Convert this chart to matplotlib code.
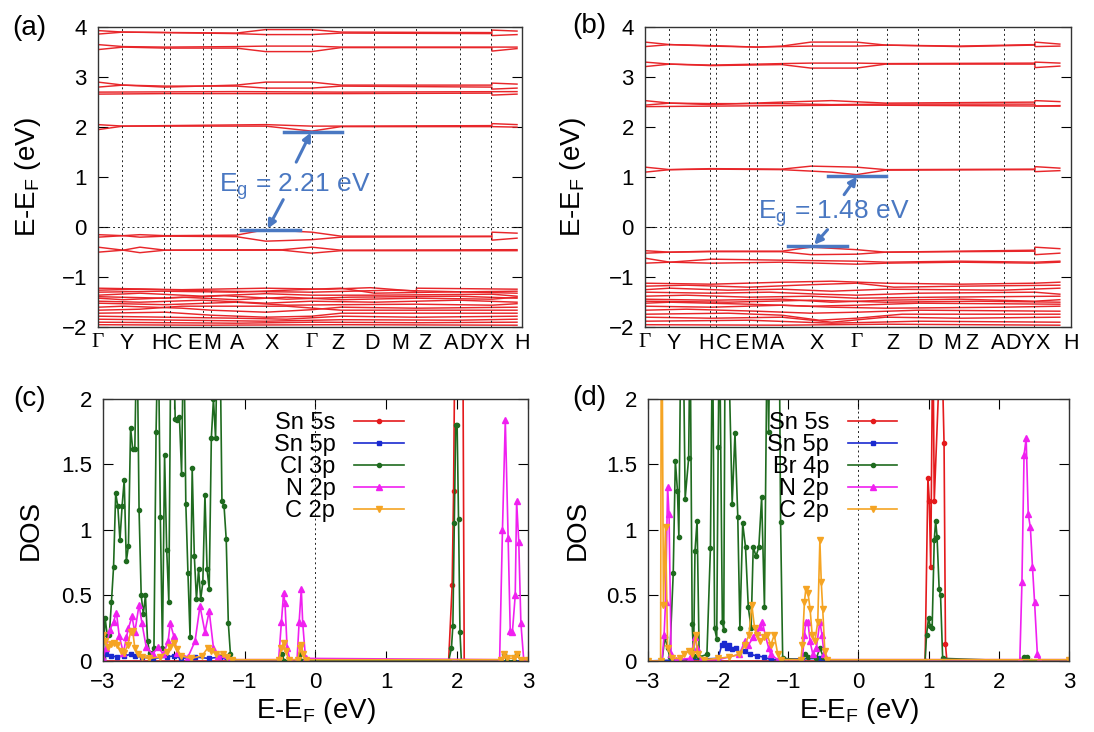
import matplotlib
matplotlib.use("Agg")
import matplotlib.pyplot as plt

plt.rcParams['font.family'] = ['Liberation Sans', 'DejaVu Sans']

# ---------------- band structure data (k along path, E-EF in eV) ----------------
kpath_lines = [0.057, 0.157, 0.171, 0.251, 0.270, 0.331, 0.402, 0.510,
               0.583, 0.659, 0.758, 0.865, 0.938]
klabels = ['Γ', 'Y', 'H', 'C', 'E', 'M', 'A', 'X', 'Γ', 'Z', 'D', 'M', 'Z',
           'A', 'D', 'Y', 'X', 'H']
klabel_pos_a = [0.0, 0.068, 0.146, 0.184, 0.229, 0.272, 0.331, 0.415, 0.510,
                0.572, 0.654, 0.722, 0.781, 0.843, 0.880, 0.914, 0.951, 1.012]
klabel_pos_b = [0.0, 0.070, 0.147, 0.190, 0.232, 0.275, 0.319, 0.414, 0.510,
                0.597, 0.675, 0.740, 0.789, 0.851, 0.888, 0.922, 0.959, 1.027]

bands_a = [
    # conduction bands
    [(0, 3.93), (0.06, 3.90), (0.33, 3.88), (0.40, 3.95), (0.51, 3.95), (0.58, 3.90), (0.94, 3.89), (0.94, 3.94), (1.0, 3.92)],
    [(0, 3.86), (0.06, 3.90), (0.33, 3.87), (0.40, 3.85), (0.51, 3.85), (0.58, 3.88), (0.94, 3.87), (0.94, 3.83), (1.0, 3.85)],
    [(0, 3.65), (0.06, 3.61), (0.16, 3.60), (0.33, 3.61), (0.40, 3.62), (0.51, 3.62), (0.58, 3.60), (0.94, 3.60), (1.0, 3.60)],
    [(0, 3.55), (0.06, 3.60), (0.16, 3.58), (0.33, 3.58), (0.40, 3.51), (0.51, 3.51), (0.58, 3.59), (0.94, 3.59), (0.94, 3.52), (1.0, 3.57)],
    [(0, 2.90), (0.06, 2.84), (0.16, 2.80), (0.33, 2.84), (0.40, 2.90), (0.51, 2.90), (0.58, 2.84), (0.94, 2.84), (0.94, 2.88), (1.0, 2.86)],
    [(0, 2.80), (0.06, 2.84), (0.16, 2.82), (0.33, 2.82), (0.40, 2.78), (0.51, 2.78), (0.58, 2.82), (0.94, 2.80), (0.94, 2.76), (1.0, 2.78)],
    [(0, 2.70), (0.33, 2.71), (0.58, 2.70), (1.0, 2.71)],
    [(0, 2.66), (0.16, 2.67), (0.58, 2.67), (0.94, 2.68), (0.94, 2.64), (1.0, 2.66)],
    [(0, 2.05), (0.06, 2.02), (0.16, 2.03), (0.40, 2.05), (0.51, 2.02), (0.58, 2.02), (0.94, 2.03), (0.94, 2.07), (1.0, 2.05)],
    [(0, 1.95), (0.06, 2.02), (0.16, 2.02), (0.40, 2.02), (0.51, 1.92), (0.58, 2.01), (0.94, 2.01), (1.0, 2.00)],
    # valence bands
    [(0, -0.15), (0.06, -0.17), (0.10, -0.15), (0.16, -0.17), (0.33, -0.16), (0.40, -0.05), (0.51, -0.10), (0.58, -0.18), (0.94, -0.18), (0.94, -0.10), (1.0, -0.12)],
    [(0, -0.20), (0.06, -0.17), (0.10, -0.20), (0.16, -0.18), (0.33, -0.19), (0.40, -0.28), (0.51, -0.25), (0.58, -0.20), (0.94, -0.19), (0.94, -0.26), (1.0, -0.22)],
    [(0, -0.40), (0.06, -0.46), (0.10, -0.40), (0.16, -0.46), (0.44, -0.45), (0.51, -0.40), (0.58, -0.46), (1.0, -0.45)],
    [(0, -0.50), (0.06, -0.46), (0.10, -0.51), (0.16, -0.46), (0.44, -0.46), (0.51, -0.52), (0.58, -0.47), (1.0, -0.47)],
    [(0, -1.22), (0.2, -1.25), (0.4, -1.22), (0.55, -1.24), (0.65, -1.21), (0.76, -1.28), (0.76, -1.22), (1.0, -1.24)],
    [(0, -1.26), (0.1, -1.24), (0.3, -1.28), (0.51, -1.30), (0.7, -1.26), (1.0, -1.32)],
    [(0, -1.30), (0.15, -1.28), (0.33, -1.30), (0.45, -1.26), (0.58, -1.22), (0.66, -1.32), (0.8, -1.30), (1.0, -1.28)],
    [(0, -1.36), (0.1, -1.32), (0.25, -1.38), (0.4, -1.33), (0.51, -1.36), (0.66, -1.36), (0.94, -1.34), (1.0, -1.38)],
    [(0, -1.39), (0.16, -1.42), (0.3, -1.37), (0.45, -1.44), (0.6, -1.40), (0.86, -1.38), (1.0, -1.42)],
    [(0, -1.42), (0.06, -1.45), (0.2, -1.40), (0.33, -1.45), (0.45, -1.40), (0.58, -1.45), (0.76, -1.42), (0.94, -1.44), (1.0, -1.40)],
    [(0, -1.48), (0.1, -1.50), (0.25, -1.46), (0.4, -1.52), (0.51, -1.48), (0.66, -1.50), (0.86, -1.46), (1.0, -1.50)],
    [(0, -1.52), (0.16, -1.55), (0.33, -1.50), (0.45, -1.56), (0.58, -1.55), (0.76, -1.54), (0.94, -1.56), (1.0, -1.53)],
    [(0, -1.60), (0.06, -1.58), (0.2, -1.62), (0.27, -1.66), (0.40, -1.70), (0.51, -1.65), (0.58, -1.60), (0.76, -1.62), (1.0, -1.60)],
    [(0, -1.66), (0.1, -1.64), (0.2, -1.58), (0.33, -1.58), (0.45, -1.58), (0.58, -1.66), (0.76, -1.66), (1.0, -1.66)],
    [(0, -1.72), (0.16, -1.70), (0.27, -1.76), (0.40, -1.80), (0.51, -1.78), (0.58, -1.72), (1.0, -1.72)],
    [(0, -1.78), (0.16, -1.80), (0.33, -1.82), (0.45, -1.84), (0.58, -1.78), (0.76, -1.80), (1.0, -1.78)],
    [(0, -1.84), (0.2, -1.86), (0.4, -1.88), (0.58, -1.85), (0.86, -1.86), (1.0, -1.84)],
    [(0, -1.90), (0.33, -1.92), (0.51, -1.90), (0.76, -1.91), (1.0, -1.90)],
    [(0, -1.95), (0.25, -1.96), (0.58, -1.95), (1.0, -1.96)],
]

bands_b = [
    # conduction bands
    [(0, 3.70), (0.06, 3.65), (0.16, 3.63), (0.27, 3.60), (0.33, 3.62), (0.40, 3.70), (0.51, 3.70), (0.58, 3.64), (0.76, 3.62), (0.94, 3.65), (0.94, 3.70), (1.0, 3.66)],
    [(0, 3.61), (0.06, 3.65), (0.16, 3.62), (0.27, 3.60), (0.33, 3.61), (0.40, 3.62), (0.51, 3.62), (0.58, 3.64), (0.76, 3.61), (0.94, 3.64), (0.94, 3.61), (1.0, 3.62)],
    [(0, 3.30), (0.06, 3.26), (0.16, 3.24), (0.33, 3.27), (0.40, 3.28), (0.51, 3.28), (0.58, 3.27), (0.94, 3.28), (0.94, 3.30), (1.0, 3.28)],
    [(0, 3.21), (0.06, 3.26), (0.16, 3.23), (0.33, 3.25), (0.40, 3.18), (0.51, 3.18), (0.58, 3.26), (0.94, 3.26), (0.94, 3.19), (1.0, 3.22)],
    [(0, 2.53), (0.06, 2.48), (0.16, 2.45), (0.33, 2.50), (0.45, 2.53), (0.58, 2.48), (0.94, 2.50), (0.94, 2.53), (1.0, 2.51)],
    [(0, 2.44), (0.06, 2.48), (0.16, 2.47), (0.33, 2.47), (0.45, 2.45), (0.58, 2.46), (0.94, 2.46), (0.94, 2.42), (1.0, 2.43)],
    [(0, 2.41), (0.16, 2.42), (0.51, 2.44), (1.0, 2.42)],
    [(0, 1.20), (0.06, 1.15), (0.16, 1.17), (0.33, 1.16), (0.40, 1.22), (0.51, 1.20), (0.58, 1.15), (0.94, 1.16), (0.94, 1.21), (1.0, 1.18)],
    [(0, 1.10), (0.06, 1.15), (0.16, 1.16), (0.33, 1.15), (0.45, 1.10), (0.51, 1.05), (0.58, 1.14), (0.94, 1.15), (0.94, 1.11), (1.0, 1.13)],
    # valence bands
    [(0, -0.47), (0.06, -0.50), (0.16, -0.48), (0.33, -0.48), (0.40, -0.40), (0.51, -0.45), (0.58, -0.50), (0.94, -0.46), (0.94, -0.40), (1.0, -0.43)],
    [(0, -0.52), (0.06, -0.50), (0.16, -0.49), (0.33, -0.49), (0.40, -0.55), (0.51, -0.54), (0.58, -0.50), (0.94, -0.48), (0.94, -0.55), (1.0, -0.52)],
    [(0, -0.62), (0.06, -0.70), (0.16, -0.64), (0.33, -0.66), (0.51, -0.68), (0.58, -0.70), (0.76, -0.68), (0.94, -0.70), (1.0, -0.68)],
    [(0, -0.72), (0.06, -0.70), (0.16, -0.72), (0.33, -0.70), (0.51, -0.74), (0.58, -0.72), (0.76, -0.70), (0.94, -0.72), (1.0, -0.70)],
    [(0, -1.12), (0.16, -1.14), (0.33, -1.10), (0.45, -1.08), (0.58, -1.12), (0.76, -1.14), (0.94, -1.12), (1.0, -1.10)],
    [(0, -1.18), (0.1, -1.16), (0.25, -1.20), (0.40, -1.15), (0.51, -1.12), (0.60, -1.20), (0.76, -1.18), (1.0, -1.16)],
    [(0, -1.25), (0.06, -1.22), (0.2, -1.26), (0.33, -1.24), (0.45, -1.28), (0.58, -1.24), (0.86, -1.26), (1.0, -1.22)],
    [(0, -1.30), (0.16, -1.32), (0.3, -1.30), (0.42, -1.34), (0.51, -1.36), (0.66, -1.32), (0.94, -1.30), (1.0, -1.34)],
    [(0, -1.38), (0.1, -1.36), (0.25, -1.40), (0.40, -1.38), (0.51, -1.42), (0.70, -1.40), (1.0, -1.38)],
    [(0, -1.44), (0.16, -1.46), (0.33, -1.44), (0.45, -1.50), (0.58, -1.46), (0.76, -1.44), (0.94, -1.48), (1.0, -1.45)],
    [(0, -1.48), (0.2, -1.50), (0.40, -1.46), (0.58, -1.50), (0.8, -1.48), (1.0, -1.50)],
    [(0, -1.52), (0.06, -1.50), (0.25, -1.54), (0.40, -1.58), (0.51, -1.56), (0.66, -1.52), (1.0, -1.54)],
    [(0, -1.58), (0.16, -1.60), (0.33, -1.56), (0.45, -1.60), (0.58, -1.62), (0.86, -1.60), (1.0, -1.58)],
    [(0, -1.66), (0.1, -1.64), (0.27, -1.68), (0.40, -1.72), (0.51, -1.70), (0.66, -1.66), (1.0, -1.68)],
    [(0, -1.74), (0.2, -1.72), (0.33, -1.76), (0.42, -1.86), (0.51, -1.82), (0.62, -1.74), (1.0, -1.74)],
    [(0, -1.80), (0.16, -1.82), (0.33, -1.80), (0.45, -1.90), (0.58, -1.80), (0.76, -1.82), (1.0, -1.80)],
    [(0, -1.88), (0.25, -1.86), (0.45, -1.92), (0.66, -1.88), (1.0, -1.90)],
    [(0, -1.95), (0.33, -1.96), (0.58, -1.94), (1.0, -1.96)],
]

# band gap markers: (k_start, k_end, E) for CBM / VBM, text and arrows
gap_a = {'cbm': (0.444, 0.583, 1.91), 'vbm': (0.342, 0.481, -0.05),
         'text': 'E$_\\mathregular{g}$ = 2.21 eV', 'text_xy': (0.469, 0.82),
         'arrow_up': ((0.473, 1.30), (0.508, 1.89)),
         'arrow_dn': ((0.442, 0.55), (0.405, -0.03))}
gap_b = {'cbm': (0.441, 0.582, 1.03), 'vbm': (0.344, 0.487, -0.37),
         'text': 'E$_\\mathregular{g}$ = 1.48 eV', 'text_xy': (0.456, 0.28),
         'arrow_up': ((0.480, 0.65), (0.511, 1.01)),
         'arrow_dn': ((0.440, -0.05), (0.408, -0.35))}

# ---------------- projected DOS data (E-EF in eV, DOS) ----------------
dos_labels_c = ['Sn 5s', 'Sn 5p', 'Cl 3p', 'N 2p', 'C 2p']
dos_labels_d = ['Sn 5s', 'Sn 5p', 'Br 4p', 'N 2p', 'C 2p']

sn5s_c = [(-3.0, 0.0), (1.88, 0.0), (1.93, 0.58), (1.95, 1.30), (1.97, 2.6), (2.08, 2.6), (2.10, 0.0), (3.0, 0.0)]
sn5p_c = [(-3.0, 0.02), (-2.95, 0.05), (-2.88, 0.04), (-2.80, 0.03), (-2.70, 0.04), (-2.61, 0.05), (-2.55, 0.04),
          (-2.45, 0.03), (-2.30, 0.02), (-2.10, 0.03), (-2.00, 0.04), (-1.90, 0.02), (-1.70, 0.03), (-1.50, 0.02),
          (-1.35, 0.03), (-1.20, 0.0), (3.0, 0.0)]
cl3p_c = [(-3.00, 0.02), (-2.97, 0.33), (-2.94, 0.20), (-2.91, 0.20), (-2.88, 0.45), (-2.85, 0.72), (-2.82, 1.28),
          (-2.79, 1.18), (-2.76, 0.92), (-2.73, 1.18), (-2.70, 1.38), (-2.67, 0.76), (-2.64, 0.88), (-2.61, 1.78),
          (-2.58, 1.62), (-2.55, 1.62), (-2.52, 2.60), (-2.49, 1.15), (-2.46, 0.50), (-2.43, 0.36), (-2.40, 0.50),
          (-2.37, 0.15), (-2.34, 0.06), (-2.31, 0.04), (-2.28, 0.10), (-2.25, 1.75), (-2.22, 2.60), (-2.19, 1.10),
          (-2.16, 0.10), (-2.13, 1.57), (-2.10, 0.85), (-2.07, 0.45), (-2.04, 2.60), (-2.01, 2.60), (-1.98, 1.85),
          (-1.95, 1.84), (-1.92, 1.86), (-1.89, 1.43), (-1.86, 2.60), (-1.83, 1.20), (-1.80, 0.67), (-1.77, 0.18),
          (-1.74, 1.47), (-1.71, 0.80), (-1.68, 0.47), (-1.65, 0.70), (-1.62, 0.47), (-1.59, 0.60), (-1.56, 1.27),
          (-1.53, 0.70), (-1.50, 0.55), (-1.47, 1.70), (-1.44, 2.00), (-1.41, 1.70), (-1.38, 2.60), (-1.35, 2.60),
          (-1.32, 1.22), (-1.29, 1.18), (-1.26, 0.93), (-1.23, 0.29), (-1.20, 0.05), (-1.17, 0.01), (-1.14, 0.00),
          (-0.50, 0.0), (-0.47, 0.05), (-0.44, 0.0), (-0.25, 0.0), (-0.22, 0.05), (-0.19, 0.0),
          (1.88, 0.0), (1.92, 0.10), (1.94, 0.27), (1.96, 1.05), (1.98, 1.80), (2.00, 1.80), (2.02, 1.08),
          (2.04, 0.22), (2.06, 0.0), (2.62, 0.0), (2.66, 0.05), (2.70, 0.0), (2.80, 0.0), (2.85, 0.05),
          (2.90, 0.0), (3.0, 0.0)]
n2p_c = [(-3.00, 0.02), (-2.96, 0.10), (-2.90, 0.24), (-2.85, 0.30), (-2.81, 0.37), (-2.77, 0.19), (-2.71, 0.06),
         (-2.67, 0.18), (-2.64, 0.25), (-2.59, 0.34), (-2.55, 0.22), (-2.49, 0.43), (-2.45, 0.29), (-2.39, 0.11),
         (-2.30, 0.05), (-2.22, 0.11), (-2.15, 0.05), (-2.08, 0.15), (-2.05, 0.29), (-2.00, 0.19), (-1.95, 0.06),
         (-1.80, 0.03), (-1.70, 0.15), (-1.63, 0.42), (-1.56, 0.22), (-1.50, 0.38), (-1.44, 0.10), (-1.38, 0.04),
         (-1.20, 0.01), (-0.52, 0.01), (-0.48, 0.30), (-0.45, 0.52), (-0.43, 0.44), (-0.40, 0.10), (-0.36, 0.01),
         (-0.26, 0.01), (-0.23, 0.30), (-0.20, 0.55), (-0.18, 0.29), (-0.14, 0.02), (2.60, 0.01), (2.64, 1.00),
         (2.68, 1.84), (2.72, 0.94), (2.75, 0.23), (2.78, 0.22), (2.82, 0.50), (2.84, 1.22), (2.87, 0.91),
         (2.90, 0.29), (2.94, 0.01), (3.00, 0.01)]
c2p_c = [(-3.00, 0.20), (-2.97, 0.15), (-2.93, 0.11), (-2.88, 0.13), (-2.84, 0.14), (-2.80, 0.12), (-2.75, 0.08),
         (-2.70, 0.06), (-2.65, 0.12), (-2.61, 0.22), (-2.58, 0.23), (-2.55, 0.10), (-2.50, 0.05), (-2.45, 0.03),
         (-2.35, 0.02), (-2.20, 0.03), (-2.10, 0.07), (-2.05, 0.11), (-2.00, 0.14), (-1.95, 0.09), (-1.90, 0.04),
         (-1.75, 0.02), (-1.60, 0.04), (-1.52, 0.10), (-1.47, 0.08), (-1.40, 0.05), (-1.30, 0.05), (-1.25, 0.03),
         (-1.18, 0.01), (-0.52, 0.01), (-0.48, 0.10), (-0.45, 0.14), (-0.42, 0.08), (-0.38, 0.01), (-0.25, 0.01),
         (-0.22, 0.10), (-0.20, 0.12), (-0.17, 0.05), (-0.14, 0.01), (2.62, 0.01), (2.66, 0.05), (2.70, 0.02),
         (2.80, 0.02), (2.85, 0.05), (2.90, 0.01), (3.00, 0.01)]

sn5s_d = [(-3.0, 0.0), (0.95, 0.0), (0.99, 1.40), (1.01, 1.22), (1.03, 0.72), (1.06, 2.60), (1.08, 1.22),
          (1.18, 2.60), (1.22, 1.66), (1.24, 0.13), (1.26, 0.0), (3.0, 0.0)]
sn5p_d = [(-3.0, 0.0), (-2.0, 0.02), (-1.95, 0.12), (-1.92, 0.14), (-1.88, 0.10), (-1.85, 0.12), (-1.80, 0.09),
          (-1.75, 0.10), (-1.70, 0.06), (-1.62, 0.08), (-1.55, 0.05), (-1.45, 0.04), (-1.35, 0.03), (-1.25, 0.01),
          (-0.55, 0.02), (-0.50, 0.0), (3.0, 0.0)]
br4p_d = [(-3.00, 0.0), (-2.80, 0.0), (-2.76, 0.18), (-2.72, 0.10), (-2.69, 0.03), (-2.64, 0.67), (-2.61, 1.53),
          (-2.58, 1.30), (-2.56, 0.95), (-2.53, 2.60), (-2.50, 2.60), (-2.47, 1.24), (-2.42, 1.55), (-2.40, 2.60),
          (-2.37, 0.28), (-2.35, 0.04), (-2.33, 0.84), (-2.30, 1.07), (-2.27, 0.03), (-2.16, 0.05), (-2.11, 0.86),
          (-2.08, 2.60), (-2.05, 0.25), (-2.02, 0.17), (-2.00, 1.63), (-1.98, 2.60), (-1.94, 0.30), (-1.92, 0.24),
          (-1.90, 2.60), (-1.86, 2.60), (-1.80, 1.20), (-1.76, 1.74), (-1.72, 1.10), (-1.69, 0.25), (-1.65, 1.05),
          (-1.61, 0.87), (-1.57, 0.41), (-1.53, 0.25), (-1.50, 0.87), (-1.46, 0.80), (-1.42, 0.87), (-1.38, 1.25),
          (-1.34, 0.41), (-1.30, 2.60), (-1.28, 1.75), (-1.26, 2.60), (-1.13, 2.60), (-1.11, 1.06), (-1.08, 0.02),
          (-0.80, 0.01), (-0.76, 0.05), (-0.72, 0.03), (-0.60, 0.02), (-0.55, 0.10), (-0.50, 0.03), (-0.45, 0.0),
          (0.95, 0.0), (0.97, 0.20), (1.00, 0.33), (1.02, 0.27), (1.05, 0.25), (1.08, 0.92), (1.10, 1.07),
          (1.12, 0.95), (1.15, 0.55), (1.17, 0.50), (1.20, 0.02), (2.30, 0.0), (2.36, 0.03), (2.40, 0.03),
          (2.46, 0.0), (3.00, 0.0)]
n2p_d = [(-3.00, 0.0), (-2.80, 0.0), (-2.77, 0.20), (-2.75, 0.45), (-2.72, 1.33), (-2.70, 1.12), (-2.67, 0.05),
         (-2.60, 0.01), (-2.40, 0.02), (-2.33, 0.18), (-2.30, 0.10), (-2.25, 0.01), (-2.00, 0.01), (-1.70, 0.05),
         (-1.62, 0.15), (-1.57, 0.12), (-1.50, 0.18), (-1.45, 0.22), (-1.40, 0.26), (-1.37, 0.30), (-1.33, 0.20),
         (-1.28, 0.10), (-1.25, 0.05), (-1.15, 0.01), (-0.80, 0.01), (-0.77, 0.20), (-0.75, 0.30), (-0.72, 0.30),
         (-0.69, 0.15), (-0.65, 0.05), (-0.60, 0.10), (-0.55, 0.30), (-0.52, 0.20), (-0.49, 0.05), (-0.45, 0.01),
         (2.30, 0.01), (2.33, 0.60), (2.36, 1.57), (2.39, 1.70), (2.42, 1.12), (2.45, 1.02), (2.48, 0.72),
         (2.51, 0.45), (2.55, 0.05), (2.58, 0.01), (3.00, 0.01)]
c2p_d = [(-3.00, 0.0), (-2.82, 0.0), (-2.81, 2.60), (-2.80, 2.60), (-2.78, 0.43), (-2.75, 1.02), (-2.72, 0.10),
         (-2.66, 0.02), (-2.55, 0.02), (-2.48, 0.05), (-2.42, 0.08), (-2.37, 0.05), (-2.32, 0.20), (-2.29, 0.05),
         (-2.20, 0.01), (-2.00, 0.02), (-1.85, 0.03), (-1.70, 0.05), (-1.62, 0.12), (-1.56, 0.20), (-1.52, 0.43),
         (-1.48, 0.25), (-1.44, 0.20), (-1.40, 0.15), (-1.35, 0.18), (-1.30, 0.20), (-1.25, 0.12), (-1.20, 0.20),
         (-1.15, 0.05), (-1.10, 0.01), (-0.82, 0.01), (-0.80, 0.12), (-0.77, 0.45), (-0.75, 0.55), (-0.72, 0.52),
         (-0.69, 0.40), (-0.66, 0.20), (-0.62, 0.15), (-0.58, 0.30), (-0.55, 0.92), (-0.53, 0.60), (-0.51, 0.40),
         (-0.48, 0.08), (-0.45, 0.01), (3.00, 0.01)]

dos_c = [sn5s_c, sn5p_c, cl3p_c, n2p_c, c2p_c]
dos_d = [sn5s_d, sn5p_d, br4p_d, n2p_d, c2p_d]

# ---------------- styles ----------------
BAND_RED = '#e8262a'
GAP_BLUE = '#4a78c2'
dos_colors = ['#e41a1c', '#1a2ad0', '#1f6b1f', '#f020f0', '#f5a423']
dos_markers = ['o', 's', 'o', '^', 'v']
dos_msize = [3, 2.5, 3, 4, 4]
TICK_FS = 16
KLABEL_FS = 15.5
LABEL_FS = 20


def style_frame(ax):
    for sp in ax.spines.values():
        sp.set_color('#333333')
        sp.set_linewidth(1.0)


def plot_bands(ax, bands, label_pos, gap):
    for band in bands:
        k, e = zip(*band)
        ax.plot(k, e, color=BAND_RED, lw=1.05)
    for x in kpath_lines:
        ax.axvline(x, color='#222222', lw=0.7, ls=(0, (2, 3)))
    ax.axhline(0, color='#222222', lw=0.7, ls=(0, (2, 3)))
    ax.set_xlim(0, 1)
    ax.set_ylim(-2, 4)
    ax.set_yticks(range(-2, 5))
    ax.tick_params(axis='y', direction='in', left=True, right=True, length=7,
                   labelsize=TICK_FS, pad=8)
    ax.set_xticks(label_pos)
    ax.set_xticklabels(klabels)
    ax.tick_params(axis='x', length=0, labelsize=KLABEL_FS, pad=4)
    for t in ax.get_xticklabels():
        if t.get_text() == 'Γ':
            t.set_fontfamily(['Liberation Serif', 'DejaVu Serif'])
    ax.set_ylabel('E-E$_\\mathregular{F}$ (eV)', fontsize=LABEL_FS)

    # band gap markers
    for key in ('cbm', 'vbm'):
        k0, k1, e = gap[key]
        ax.plot([k0, k1], [e, e], color=GAP_BLUE, lw=2.5)
    ax.text(*gap['text_xy'], gap['text'], color=GAP_BLUE, fontsize=19,
            ha='center', va='center')
    for key in ('arrow_up', 'arrow_dn'):
        tail, tip = gap[key]
        ax.annotate('', xy=tip, xytext=tail,
                    arrowprops=dict(arrowstyle='-|>', color=GAP_BLUE, lw=2.2,
                                    mutation_scale=12, shrinkA=0, shrinkB=0))
    style_frame(ax)


def plot_dos(ax, series, labels, legend_anchor):
    for data, lab, c, m, ms in zip(series, labels, dos_colors, dos_markers, dos_msize):
        e, d = zip(*data)
        ax.plot(e, d, color=c, lw=1.2, marker=m, ms=ms, label=lab)
    ax.axvline(0, color='#222222', lw=0.7, ls=(0, (2, 3)))
    ax.set_xlim(-3, 3)
    ax.set_ylim(0, 2)
    ax.set_xticks(range(-3, 4))
    ax.set_yticks([0, 0.5, 1, 1.5, 2])
    ax.set_yticklabels(['0', '0.5', '1', '1.5', '2'])
    ax.tick_params(direction='in', top=True, right=True, length=7,
                   labelsize=TICK_FS)
    ax.tick_params(axis='y', pad=8)
    ax.tick_params(axis='x', pad=8)
    ax.set_ylabel('DOS', fontsize=LABEL_FS)
    ax.set_xlabel('E-E$_\\mathregular{F}$ (eV)', fontsize=LABEL_FS)
    ax.xaxis.set_label_coords(0.5, -0.135)
    leg = ax.legend(loc='upper right', bbox_to_anchor=legend_anchor, frameon=False,
                    markerfirst=False, numpoints=1, fontsize=17, handlelength=2.1,
                    labelspacing=0.0, handletextpad=0.8, borderaxespad=0.0)
    for t in leg.get_texts():
        t.set_ha('right')
    leg._legend_box.align = 'right'
    style_frame(ax)


fig = plt.figure(figsize=(10.94, 7.32), dpi=100)
ax_a = fig.add_axes([0.0896, 0.553, 0.3876, 0.410])
ax_b = fig.add_axes([0.5896, 0.553, 0.3894, 0.410])
ax_c = fig.add_axes([0.0941, 0.097, 0.3885, 0.358])
ax_d = fig.add_axes([0.5923, 0.097, 0.3848, 0.358])

plot_bands(ax_a, bands_a, klabel_pos_a, gap_a)
plot_bands(ax_b, bands_b, klabel_pos_b, gap_b)
plot_dos(ax_c, dos_c, dos_labels_c, (0.73, 0.985))
plot_dos(ax_d, dos_d, dos_labels_d, (0.615, 0.985))

ax_a.yaxis.set_label_coords(-0.13, 0.5)
ax_b.yaxis.set_label_coords(-0.135, 0.5)
ax_c.yaxis.set_label_coords(-0.14, 0.5)
ax_d.yaxis.set_label_coords(-0.135, 0.5)

for label, (x, y) in zip(['(a)', '(b)', '(c)', '(d)'],
                         [(0.027, 0.962), (0.539, 0.965), (0.027, 0.455), (0.539, 0.456)]):
    fig.text(x, y, label, fontsize=20, ha='center', va='center')

fig.savefig('out.png', dpi=100)
